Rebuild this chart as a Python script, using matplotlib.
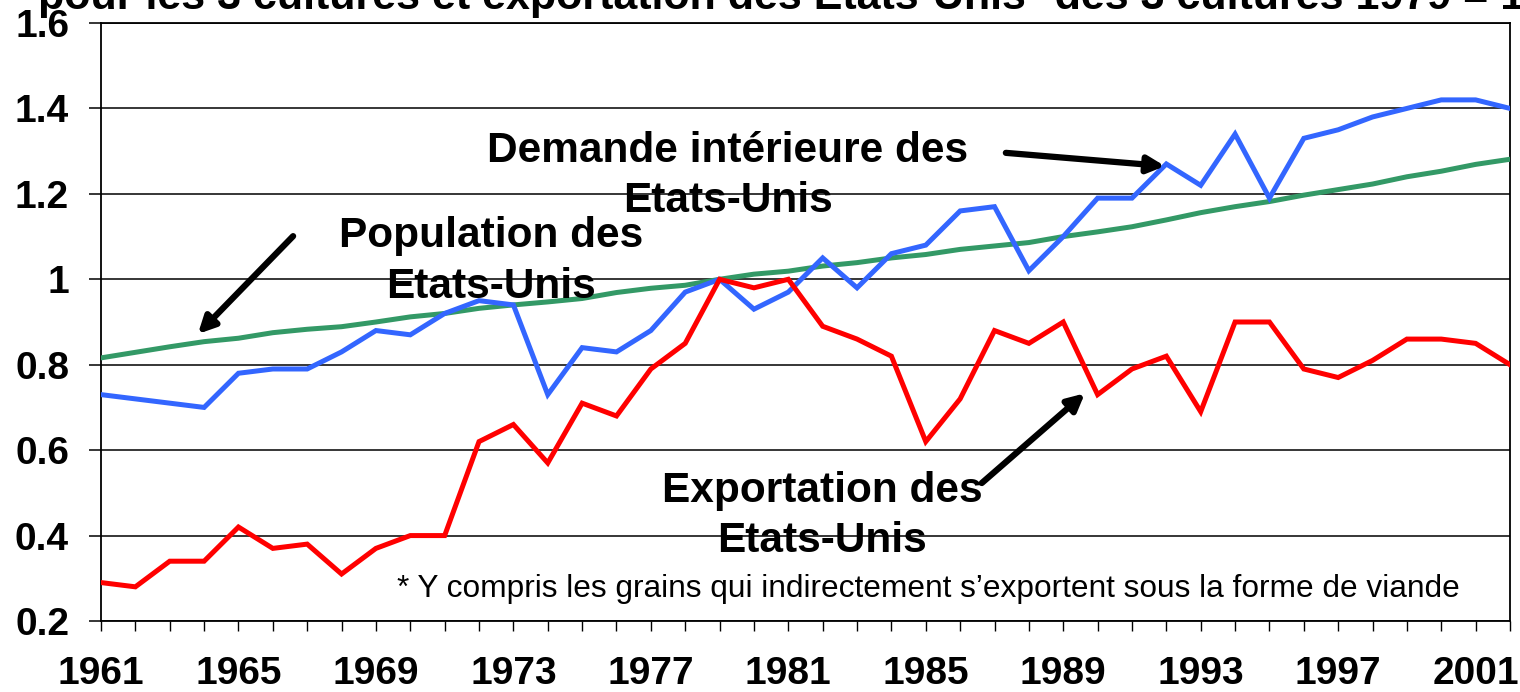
import matplotlib
matplotlib.use("Agg")
import matplotlib.pyplot as plt
import numpy as np

plt.rcParams['font.family'] = ['Liberation Sans', 'DejaVu Sans']

years = list(range(1961, 2003))

demande = [0.73, 0.72, 0.71, 0.70, 0.78, 0.79, 0.79, 0.83, 0.88, 0.87,
           0.92, 0.95, 0.94, 0.73, 0.84, 0.83, 0.88, 0.97, 1.00, 0.93,
           0.97, 1.05, 0.98, 1.06, 1.08, 1.16, 1.17, 1.02, 1.10, 1.19,
           1.19, 1.27, 1.22, 1.34, 1.19, 1.33, 1.35, 1.38, 1.40, 1.42,
           1.42, 1.40]

population = [0.816, 0.829, 0.842, 0.854, 0.862, 0.875, 0.883, 0.889, 0.900, 0.912,
              0.920, 0.932, 0.940, 0.947, 0.955, 0.969, 0.979, 0.986, 1.000, 1.012,
              1.019, 1.031, 1.039, 1.050, 1.058, 1.070, 1.078, 1.086, 1.100, 1.111,
              1.123, 1.139, 1.156, 1.170, 1.182, 1.197, 1.210, 1.223, 1.240, 1.253,
              1.269, 1.281]

exportation = [0.29, 0.28, 0.34, 0.34, 0.42, 0.37, 0.38, 0.31, 0.37, 0.40,
               0.40, 0.62, 0.66, 0.57, 0.71, 0.68, 0.79, 0.85, 1.00, 0.98,
               1.00, 0.89, 0.86, 0.82, 0.62, 0.72, 0.88, 0.85, 0.90, 0.73,
               0.79, 0.82, 0.69, 0.90, 0.90, 0.79, 0.77, 0.81, 0.86, 0.86,
               0.85, 0.80]

y_ticks = [0.2, 0.4, 0.6, 0.8, 1.0, 1.2, 1.4, 1.6]
y_ticklabels = ['0.2', '0.4', '0.6', '0.8', '1', '1.2', '1.4', '1.6']
x_labelled = [1961, 1965, 1969, 1973, 1977, 1981, 1985, 1989, 1993, 1997, 2001]

title = "pour les 3 cultures et exportation des Etats-Unis* des 3 cultures 1979 = 1"
lab_demande = ["Demande intérieure des", "Etats-Unis"]
lab_population = ["Population des", "Etats-Unis"]
lab_export = ["Exportation des", "Etats-Unis"]
footnote = "* Y compris les grains qui indirectement s\u2019exportent sous la forme de viande"

fig = plt.figure(figsize=(15.2, 6.92), dpi=100)
ax = fig.add_axes([101/1520, 1-621/692, (1510-101)/1520, (621-23)/692])

ax.plot(years, population, color='#339966', lw=3.6, zorder=3, solid_joinstyle='miter')
ax.plot(years, demande, color='#3366FF', lw=3.6, zorder=4, solid_joinstyle='miter')
ax.plot(years, exportation, color='#FF0000', lw=3.6, zorder=5, solid_joinstyle='miter')

ax.set_xlim(1961, 2002)
ax.set_ylim(0.2, 1.6)
ax.set_yticks(y_ticks)
ax.set_yticklabels(y_ticklabels)
ax.set_xticks(years)
ax.set_xticklabels([str(y) if y in x_labelled else '' for y in years])
ax.grid(axis='y', color='black', lw=1.1, zorder=1)
ax.set_axisbelow(True)
for s in ax.spines.values():
    s.set_color('black')
    s.set_linewidth(1.3)
ax.tick_params(axis='y', direction='out', length=9, width=1.1, pad=14,
               labelsize=28)
ax.tick_params(axis='x', direction='out', length=7, width=1.0, pad=18,
               labelsize=28)
for lbl in ax.get_xticklabels() + ax.get_yticklabels():
    lbl.set_fontweight('bold')

tkw = dict(fontsize=30.5, fontweight='bold', ha='center', va='baseline', zorder=6)
ax.text(1979.24, 1.274, lab_demande[0], **tkw)
ax.text(1979.24, 1.157, lab_demande[1], **tkw)
ax.text(1972.35, 1.075, lab_population[0], **tkw)
ax.text(1972.35, 0.956, lab_population[1], **tkw)
ax.text(1981.98, 0.478, lab_export[0], **tkw)
ax.text(1981.98, 0.361, lab_export[1], **tkw)

ax.text(1969.61, 0.256, footnote, fontsize=22.8, ha='left', va='baseline', zorder=6)

akw = dict(arrowstyle='-|>,head_length=1.0,head_width=0.5', color='black', lw=4.5,
           shrinkA=0, shrinkB=0)
ax.annotate('', xy=(1991.96, 1.265), xytext=(1987.33, 1.296), arrowprops=akw, zorder=7)
ax.annotate('', xy=(1963.82, 0.872), xytext=(1966.59, 1.101), arrowprops=akw, zorder=7)
ax.annotate('', xy=(1989.63, 0.733), xytext=(1986.63, 0.523), arrowprops=akw, zorder=7)

fig.text(38/1520, 1 - 9/692, title, fontsize=31, fontweight='bold', ha='left', va='baseline')

fig.savefig('out.png', dpi=100)
